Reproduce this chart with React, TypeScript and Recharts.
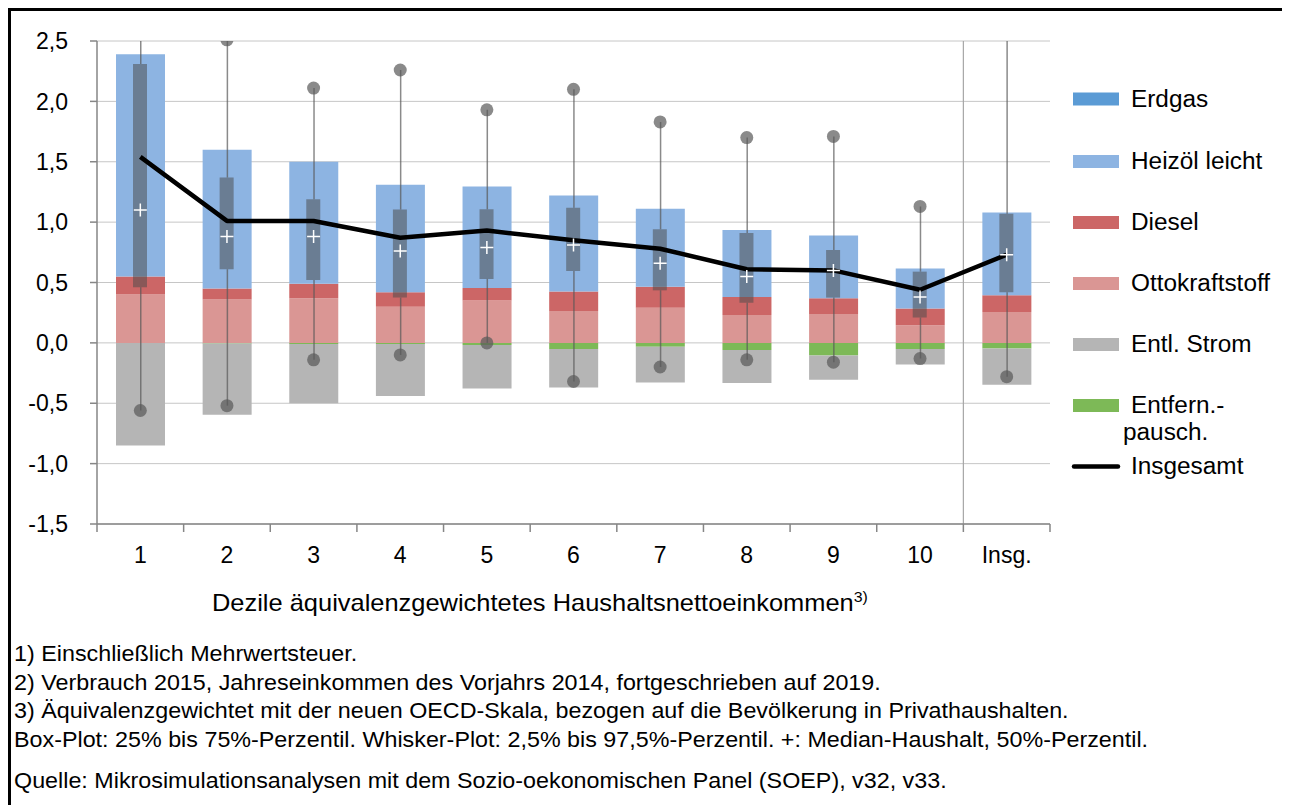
import React from "react";
import {
  ComposedChart, Bar, Line, XAxis, YAxis, CartesianGrid, ReferenceLine,
} from "recharts";

const deciles = ["1", "2", "3", "4", "5", "6", "7", "8", "9", "10", "Insg."];

// stacked components
const erdgas = [0, 0, 0, 0, 0, 0, 0, 0, 0, 0, 0];
const heizoel = [1.84, 1.15, 1.01, 0.89, 0.84, 0.795, 0.645, 0.555, 0.52, 0.33, 0.685];
const diesel = [0.15, 0.09, 0.12, 0.12, 0.105, 0.16, 0.175, 0.15, 0.13, 0.14, 0.14];
const otto = [0.4, 0.36, 0.37, 0.3, 0.35, 0.265, 0.29, 0.23, 0.24, 0.145, 0.255];
const pendler = [0, -0.005, -0.01, -0.01, -0.017, -0.05, -0.033, -0.058, -0.105, -0.05, -0.047];
const strom = [-0.85, -0.59, -0.49, -0.43, -0.36, -0.32, -0.295, -0.275, -0.2, -0.13, -0.3];
const insgesamt = [1.54, 1.01, 1.01, 0.87, 0.93, 0.85, 0.78, 0.61, 0.6, 0.44, 0.73];

// box plot percentiles
const p2_5 = [-0.56, -0.52, -0.14, -0.1, 0.0, -0.32, -0.2, -0.14, -0.16, -0.13, -0.28];
const p25 = [0.46, 0.61, 0.52, 0.375, 0.53, 0.595, 0.435, 0.333, 0.375, 0.21, 0.42];
const median = [1.1, 0.88, 0.88, 0.76, 0.79, 0.81, 0.66, 0.55, 0.6, 0.38, 0.73];
const p75 = [2.31, 1.37, 1.19, 1.105, 1.107, 1.12, 0.94, 0.91, 0.77, 0.59, 1.07];
const p97_5 = [2.9, 2.51, 2.11, 2.26, 1.93, 2.1, 1.83, 1.7, 1.71, 1.13, 2.7];

const yTicks = [-1.5, -1, -0.5, 0, 0.5, 1, 1.5, 2, 2.5];

const footnotes = [
  "1) Einschließlich Mehrwertsteuer.",
  "2) Verbrauch 2015, Jahreseinkommen des Vorjahrs 2014, fortgeschrieben auf 2019.",
  "3) Äquivalenzgewichtet mit der neuen OECD-Skala, bezogen auf die Bevölkerung in Privathaushalten.",
  "Box-Plot: 25% bis 75%-Perzentil. Whisker-Plot: 2,5% bis 97,5%-Perzentil. +: Median-Haushalt, 50%-Perzentil.",
];
const source = "Quelle: Mikrosimulationsanalysen mit dem Sozio-oekonomischen Panel (SOEP), v32, v33.";

const C = {
  erdgas: "#5B9BD5",
  heizoel: "#8DB4E2",
  diesel: "#CC6666",
  otto: "#DA9694",
  strom: "#B5B5B5",
  pendler: "#7DB957",
  axis: "#868686",
  grid: "#C6C6C6",
};

const FONT = "Arial, 'Liberation Sans', Helvetica, sans-serif";
const STRETCH = 1.06; // the original text runs a little wider than Arial

const rows = deciles.map((name, i) => ({
  name,
  erdgas: erdgas[i],
  heizoel: heizoel[i],
  diesel: diesel[i],
  otto: otto[i],
  pendler: pendler[i],
  strom: strom[i],
  insgesamt: insgesamt[i],
  box: [p25[i], p75[i]],
  whLo: [p2_5[i], p25[i]],
  whHi: [p75[i], p97_5[i]],
  lo: p2_5[i],
  hi: p97_5[i],
  median: median[i],
}));

const legendItems = [
  { label: "Erdgas", color: C.erdgas, y: 95.5 },
  { label: "Heizöl leicht", color: C.heizoel, y: 158 },
  { label: "Diesel", color: C.diesel, y: 219 },
  { label: "Ottokraftstoff", color: C.otto, y: 280 },
  { label: "Entl. Strom", color: C.strom, y: 341 },
  { label: "Entfern.-", color: C.pendler, y: 402 },
];

function Txt({ x, y, size, children }: { x: number; y: number; size: number; children: React.ReactNode }) {
  return (
    <text transform={`translate(${x},${y}) scale(${STRETCH},1)`} fontSize={size} fill="#000">
      {children}
    </text>
  );
}

function XTick(props: any) {
  const { x, y, payload, index, width, visibleTicksCount } = props;
  const n = visibleTicksCount || deciles.length;
  const half = width ? width / n / 2 : 43.3;
  return (
    <g>
      <line x1={x - half} x2={x - half} y1={y} y2={y + 8} stroke={C.axis} strokeWidth={1.5} />
      {index === n - 1 && (
        <line x1={x + half} x2={x + half} y1={y} y2={y + 8} stroke={C.axis} strokeWidth={1.5} />
      )}
      <text x={x} y={y + 39} textAnchor="middle" fontSize={23} fontFamily={FONT} fill="#000">
        {payload.value}
      </text>
    </g>
  );
}

const cross = (p: any) => (
  <path
    key={`m-${p.index}`}
    d={`M${p.cx - 6.5},${p.cy}h13M${p.cx},${p.cy - 6.5}v13`}
    stroke="#fff"
    strokeWidth={1.5}
    fill="none"
  />
);

export default function App() {
  return (
    <div
      style={{
        position: "relative",
        width: 1279,
        height: 794,
        borderTop: "3px solid #000",
        borderLeft: "3px solid #000",
        fontFamily: FONT,
        overflow: "hidden",
      }}
    >
      <style>{"html,body{overflow:hidden}"}</style>
      <div style={{ position: "absolute", left: 0, top: 0 }}>
        <ComposedChart
          width={1270}
          height={620}
          data={rows}
          stackOffset="sign"
          margin={{ top: 30, right: 231, left: 26, bottom: 77 }}
        >
          <CartesianGrid vertical={false} stroke={C.grid} />
          <XAxis
            dataKey="name"
            interval={0}
            height={30}
            tickLine={false}
            tickSize={0}
            tickMargin={0}
            axisLine={{ stroke: C.axis, strokeWidth: 1.5 }}
            tick={<XTick />}
          />
          <XAxis xAxisId="box" dataKey="name" hide />
          <XAxis xAxisId="whLo" dataKey="name" hide />
          <XAxis xAxisId="whHi" dataKey="name" hide />
          <XAxis
            xAxisId="top"
            dataKey="name"
            orientation="top"
            height={0}
            tick={false}
            tickLine={false}
            axisLine={{ stroke: "#000", strokeWidth: 1.2 }}
          />
          <YAxis
            domain={[-1.5, 2.5]}
            ticks={yTicks}
            allowDataOverflow
            width={60}
            tickSize={7}
            tickMargin={22}
            tickLine={{ stroke: C.axis, strokeWidth: 1.5 }}
            axisLine={{ stroke: C.axis, strokeWidth: 1.5 }}
            tick={{ fontSize: 23, fill: "#000", fontFamily: FONT }}
            tickFormatter={(v: number) => v.toFixed(1).replace(".", ",")}
          />
          <YAxis
            yAxisId="right"
            orientation="right"
            type="number"
            domain={[0, 1]}
            width={0}
            tick={false}
            tickLine={false}
            axisLine={{ stroke: "#000", strokeWidth: 1.2 }}
          />
          <ReferenceLine x="Insg." position="start" stroke="#A6A6A6" strokeWidth={1.2} />

          <Bar dataKey="otto" stackId="s" fill={C.otto} barSize={49} isAnimationActive={false} />
          <Bar dataKey="diesel" stackId="s" fill={C.diesel} barSize={49} isAnimationActive={false} />
          <Bar dataKey="heizoel" stackId="s" fill={C.heizoel} barSize={49} isAnimationActive={false} />
          <Bar dataKey="erdgas" stackId="s" fill={C.erdgas} barSize={49} isAnimationActive={false} />
          <Bar dataKey="pendler" stackId="s" fill={C.pendler} barSize={49} isAnimationActive={false} />
          <Bar dataKey="strom" stackId="s" fill={C.strom} barSize={49} isAnimationActive={false} />

          <Bar xAxisId="whLo" dataKey="whLo" fill="#595959" fillOpacity={0.7} barSize={1.5} isAnimationActive={false} />
          <Bar xAxisId="whHi" dataKey="whHi" fill="#595959" fillOpacity={0.7} barSize={1.5} isAnimationActive={false} />
          <Bar xAxisId="box" dataKey="box" fill="#4A4A4A" fillOpacity={0.52} barSize={14} isAnimationActive={false} />

          <Line
            dataKey="insgesamt"
            type="linear"
            stroke="#000"
            strokeWidth={4.5}
            strokeLinejoin="round"
            dot={false}
            activeDot={false}
            isAnimationActive={false}
          />
          <Line
            dataKey="hi"
            stroke="none"
            dot={{ r: 6.5, fill: "#595959", fillOpacity: 0.7, stroke: "none" }}
            activeDot={false}
            isAnimationActive={false}
          />
          <Line
            dataKey="lo"
            stroke="none"
            dot={{ r: 6.5, fill: "#595959", fillOpacity: 0.7, stroke: "none" }}
            activeDot={false}
            isAnimationActive={false}
          />
          <Line dataKey="median" stroke="none" dot={cross} activeDot={false} isAnimationActive={false} />
        </ComposedChart>
      </div>

      <svg
        width={1279}
        height={794}
        style={{ position: "absolute", left: 0, top: 0, pointerEvents: "none" }}
        fontFamily={FONT}
      >
        {legendItems.map((it) => (
          <g key={it.label}>
            <rect x={1062} y={it.y - 14} width={46} height={13} fill={it.color} />
            <Txt x={1120} y={it.y} size={23}>{it.label}</Txt>
          </g>
        ))}
        <Txt x={1112} y={429} size={23}>pausch.</Txt>
        <line x1={1063} x2={1107} y1={455.5} y2={455.5} stroke="#000" strokeWidth={4.5} strokeLinecap="round" />
        <Txt x={1120} y={463} size={23}>Insgesamt</Txt>

        <Txt x={201} y={600} size={24}>
          Dezile äquivalenzgewichtetes Haushaltsnettoeinkommen
          <tspan fontSize={15} dy={-9}>3)</tspan>
        </Txt>

        {footnotes.map((t, i) => (
          <Txt key={i} x={3} y={650 + i * 28.5} size={22}>{t}</Txt>
        ))}
        <Txt x={3} y={777} size={22}>{source}</Txt>
      </svg>
    </div>
  );
}
